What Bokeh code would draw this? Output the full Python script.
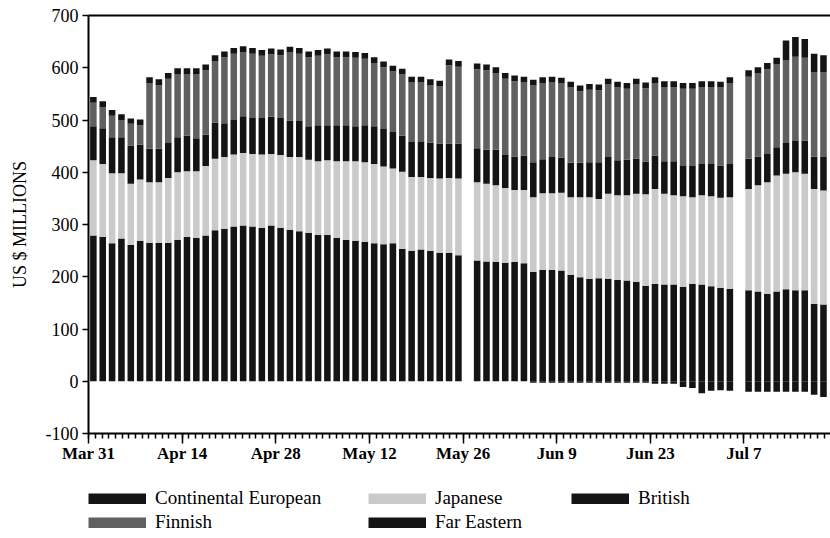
import numpy as np
import pandas as pd
from bokeh.plotting import figure
from bokeh.layouts import column
from bokeh.models import Range1d, FixedTicker, Legend, LegendItem, ColumnDataSource, LinearAxis
from bokeh.embed import file_html
from bokeh.resources import INLINE

# Trading days Mar 31 - Jul 17 (no bars on the May 26 and Jul 4 holidays)
all_days = pd.bdate_range("1997-03-31", "1997-07-17")
holidays = pd.to_datetime(["1997-05-26", "1997-07-04"])

continental = [279, 276, 264, 273, 261, 269, 265, 265, 265, 271, 276, 274, 279, 289, 292, 296, 298, 296, 294, 298,
               294, 290, 287, 284, 280, 280, 274, 271, 269, 267, 264, 262, 264, 253, 250, 252, 250, 246, 246, 241,
               231, 229, 228, 227, 228, 226, 209, 213, 213, 212, 204, 199, 196, 197, 196, 194, 193, 190, 183, 186,
               185, 185, 181, 186, 185, 182, 179, 177,
               174, 172, 167, 172, 176, 174, 174, 148, 147]
japanese = [144, 140, 134, 125, 117, 117, 116, 116, 124, 129, 126, 128, 133, 137, 137, 138, 139, 139, 140, 137,
            139, 139, 142, 140, 141, 143, 147, 150, 152, 152, 152, 149, 143, 148, 141, 139, 139, 142, 143, 147,
            150, 149, 147, 143, 138, 140, 143, 147, 147, 149, 148, 153, 156, 152, 163, 162, 163, 169, 175, 182,
            174, 171, 173, 166, 171, 172, 172, 175,
            194, 203, 214, 222, 221, 226, 223, 220, 218]
british = [65, 68, 69, 69, 73, 67, 64, 64, 67, 67, 68, 63, 60, 69, 65, 66, 70, 69, 70, 71,
           71, 70, 69, 64, 69, 67, 69, 69, 67, 71, 72, 72, 70, 69, 67, 67, 68, 67, 66, 67,
           65, 65, 68, 63, 64, 66, 67, 65, 69, 67, 66, 66, 67, 70, 70, 67, 68, 67, 62, 64,
           62, 65, 58, 60, 60, 62, 62, 64,
           58, 55, 54, 54, 59, 60, 64, 62, 64]
finnish = [45, 40, 41, 33, 42, 37, 126, 122, 123, 121, 118, 123, 123, 118, 126, 127, 123, 123, 119, 120,
           120, 130, 129, 132, 133, 136, 130, 130, 131, 127, 121, 118, 116, 117, 114, 114, 110, 109, 150, 147,
           151, 152, 147, 146, 144, 140, 147, 146, 143, 142, 144, 137, 139, 138, 139, 139, 136, 142, 141, 139,
           142, 142, 148, 148, 147, 147, 149, 155,
           157, 159, 162, 158, 158, 161, 158, 162, 162]
far_eastern = [11, 12, 11, 11, 10, 11, 11, 11, 11, 11, 11, 11, 11, 11, 11, 11, 11, 11, 11, 11,
               11, 11, 11, 11, 11, 11, 11, 11, 11, 11, 11, 11, 11, 11, 11, 11, 11, 11, 11, 11,
               11, 11, 11, 11, 11, 11, 11, 11, 11, 11, 11, 11, 11, 11, 11, 11, 11, 11, 11, 11,
               11, 11, 11, 11, 11, 11, 11, 11,
               12, 12, 12, 13, 38, 38, 36, 35, 33]
below_zero = [0] * 40 + \
             [0, 0, 0, 0, 0, 0, -3, -3, -3, -3, -3, -3, -3, -3, -3, -3, -3, -3, -3, -5,
              -5, -5, -11, -13, -23, -18, -17, -18] + \
             [-20, -20, -20, -20, -20, -20, -20, -26, -30]

tick_labels = ["Mar 31", "Apr 14", "Apr 28", "May 12", "May 26", "Jun 9", "Jun 23", "Jul 7"]
y_ticks = [-100, 0, 100, 200, 300, 400, 500, 600, 700]

# ---- positions of the bars on a trading-day axis
x = [i for i, d in enumerate(all_days) if d not in holidays]

BLACK = "#141414"
series = [("Continental European", continental, BLACK),
          ("Japanese", japanese, "#cacaca"),
          ("British", british, BLACK),
          ("Finnish", finnish, "#606060"),
          ("Far Eastern", far_eastern, BLACK)]

data = {"x": x, "neg": below_zero, "zero": [0] * len(x)}
base = np.zeros(len(x))
for name, vals, col in series:
    data[name + "_b"] = base.copy()
    base = base + np.array(vals, dtype=float)
    data[name + "_t"] = base.copy()
src = ColumnDataSource(data)

SERIF = "Liberation Serif"

p = figure(width=830, height=470, output_backend="svg", toolbar_location=None,
           x_range=Range1d(-0.52, 78.75), y_range=Range1d(-100, 700),
           min_border_left=88, min_border_right=0, min_border_top=15, min_border_bottom=37)
p.xgrid.visible = False
p.ygrid.visible = False
p.outline_line_color = None
p.background_fill_color = "white"
p.border_fill_color = "white"

BW = 0.7
p.vbar(x="x", width=BW, bottom="neg", top="zero", source=src, fill_color=BLACK, line_color=None)
for name, vals, col in series:
    p.vbar(x="x", width=BW, bottom=name + "_b", top=name + "_t", source=src,
           fill_color=col, line_color=None)

# x axis: trading-day positions, daily minor ticks
major = [-0.5 + 10 * k for k in range(len(tick_labels))]
minor = [-0.5 + d * 5 / 7 for d in range(0, 112) if -0.5 + d * 5 / 7 <= 78.75]
p.xaxis.ticker = FixedTicker(ticks=major, minor_ticks=minor)
p.xaxis.major_label_overrides = {m: lab for m, lab in zip(major, tick_labels)}
p.xaxis.major_label_text_font = SERIF
p.xaxis.major_label_text_font_style = "bold"
p.xaxis.major_label_text_font_size = "17px"
p.xaxis.major_label_text_color = "black"
p.xaxis.major_tick_in = 0
p.xaxis.major_tick_out = 10
p.xaxis.minor_tick_in = 0
p.xaxis.minor_tick_out = 5
p.xaxis.major_label_standoff = 0
p.xaxis.axis_line_width = 2
p.xaxis.major_tick_line_width = 1.5
p.xaxis.minor_tick_line_width = 1.5

p.yaxis.ticker = FixedTicker(ticks=y_ticks, minor_ticks=[])
p.yaxis.major_label_overrides = {t: str(t) for t in y_ticks}
p.yaxis.major_label_text_font = SERIF
p.yaxis.major_label_text_font_size = "18px"
p.yaxis.major_label_text_color = "black"
p.yaxis.major_tick_in = 0
p.yaxis.major_tick_out = 6
p.yaxis.major_label_standoff = 4
p.yaxis.axis_line_width = 2
p.yaxis.major_tick_line_width = 1.5
p.yaxis.axis_label = "US $ MILLIONS"
p.yaxis.axis_label_text_font = SERIF
p.yaxis.axis_label_text_font_size = "18px"
p.yaxis.axis_label_text_font_style = "normal"
p.yaxis.axis_label_text_color = "black"
p.yaxis.axis_label_standoff = 13

# top border of the plot area
top_axis = LinearAxis(ticker=FixedTicker(ticks=[]), major_label_text_font_size="0px",
                      major_tick_line_color=None, minor_tick_line_color=None, axis_line_width=2)
p.add_layout(top_axis, "above")

# ---- legend panel underneath (frame aligned with the chart's frame)
leg_fig = figure(width=830, height=68, output_backend="svg", toolbar_location=None,
                 x_axis_location=None, y_axis_location=None,
                 x_range=Range1d(0, 1), y_range=Range1d(0, 1),
                 min_border_left=88, min_border_right=0, min_border_top=0, min_border_bottom=0)
leg_fig.xgrid.visible = False
leg_fig.ygrid.visible = False
leg_fig.outline_line_color = None
# off-screen placeholder lines: they only lend their style to the legend swatches
leg_src = ColumnDataSource({"x": [-5, -4], "y": [-5, -5]})
swatches = {}
for name, vals, col in series:
    swatches[name] = leg_fig.line(x="x", y="y", source=leg_src, line_color=col,
                                  line_width=11, line_cap="butt")

columns = [(["Continental European", "Finnish"], (0, 5)),
           (["Japanese", "Far Eastern"], (280, 5)),
           (["British"], (483, 29))]
for names, loc in columns:
    leg = Legend(items=[LegendItem(label=n, renderers=[swatches[n]]) for n in names],
                 location=loc, orientation="vertical",
                 glyph_width=58, glyph_height=11, label_height=22, spacing=2,
                 label_standoff=9, padding=0, margin=0,
                 border_line_color=None, background_fill_alpha=0,
                 label_text_font=SERIF, label_text_font_size="19px", label_text_color="black")
    leg_fig.add_layout(leg, "center")

open("out.html", "w").write(file_html(column(p, leg_fig), INLINE))
